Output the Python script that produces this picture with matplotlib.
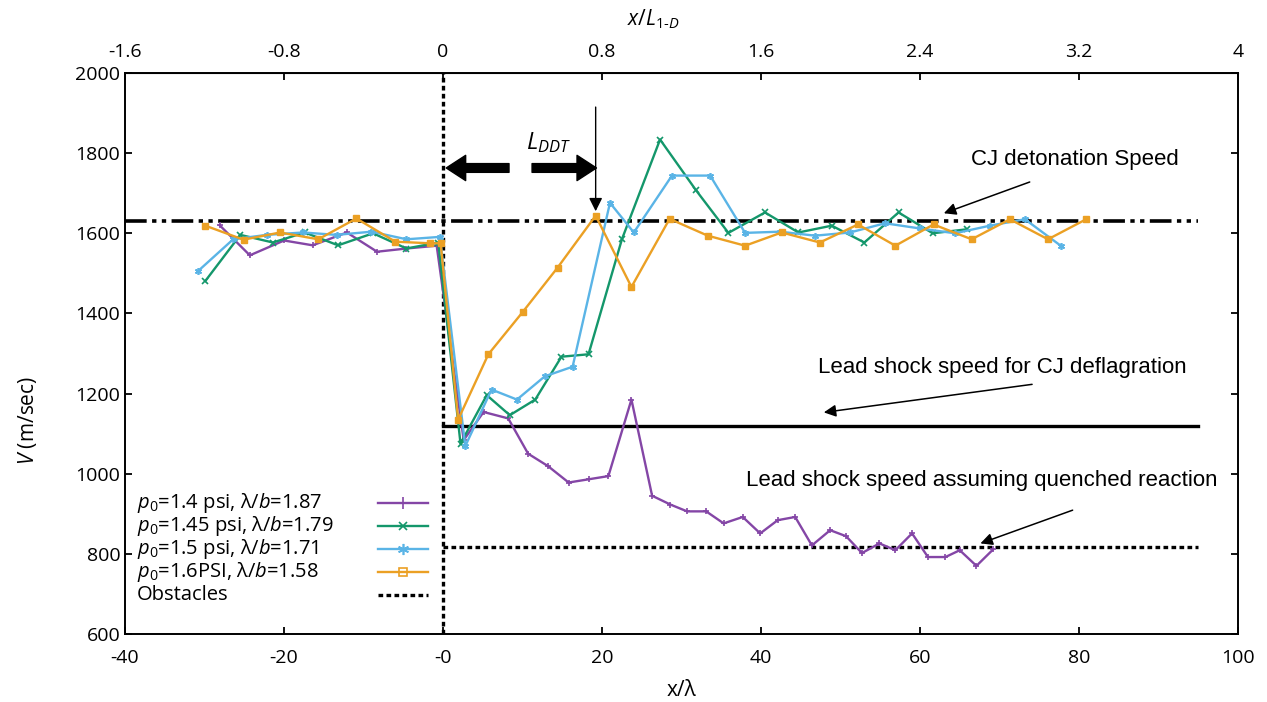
import matplotlib
matplotlib.use("Agg")
import matplotlib.pyplot as plt
from matplotlib.lines import Line2D

plt.rcParams['font.family'] = ['Open Sans', 'DejaVu Sans']
plt.rcParams['axes.unicode_minus'] = False
plt.rcParams['mathtext.fontset'] = 'custom'
plt.rcParams['mathtext.rm'] = 'Open Sans'
plt.rcParams['mathtext.it'] = 'Open Sans:italic'

# p0 = 1.4 psi
x_14 = [-28.1, -24.3, -20.0, -16.4, -12.1, -8.3, -4.6, -0.8, 2.6, 5.1, 8.2, 10.7, 13.2,
        15.8, 18.3, 20.8, 23.7, 26.3, 28.6, 30.7, 33.1, 35.3, 37.7, 39.9, 42.1, 44.3,
        46.4, 48.7, 50.7, 52.7, 54.9, 56.9, 59.0, 61.0, 63.2, 65.0, 67.1, 69.2]
v_14 = [1620, 1545, 1582, 1570, 1602, 1554, 1562, 1569, 1084, 1154, 1138, 1050, 1019,
        978, 986, 994, 1185, 945, 923, 906, 906, 876, 892, 851, 884, 892,
        821, 859, 844, 802, 826, 809, 851, 792, 792, 809, 770, 811]

# p0 = 1.45 psi
x_145 = [-29.9, -25.5, -21.4, -17.4, -13.2, -8.8, -4.6, -0.6, 2.2, 5.5, 8.4, 11.6, 14.9,
         18.3, 22.5, 27.3, 31.8, 35.9, 40.5, 44.7, 48.9, 53.0, 57.3, 61.6, 65.9]
v_145 = [1481, 1596, 1577, 1602, 1570, 1600, 1562, 1577, 1075, 1196, 1146, 1185, 1292,
         1298, 1585, 1834, 1708, 1601, 1652, 1602, 1619, 1577, 1652, 1600, 1610]

# p0 = 1.5 psi
x_15 = [-30.8, -26.4, -22.2, -17.6, -13.4, -9.0, -4.6, -0.4, 2.8, 6.1, 9.3, 12.8, 16.3,
        21.0, 24.0, 28.8, 33.6, 38.0, 42.4, 46.8, 51.2, 55.6, 60.0, 64.4, 68.8, 73.2, 77.7]
v_15 = [1506, 1585, 1596, 1602, 1596, 1604, 1585, 1591, 1069, 1210, 1185, 1243, 1267,
        1676, 1602, 1744, 1744, 1601, 1604, 1594, 1602, 1625, 1612, 1600, 1619, 1635, 1569]

# p0 = 1.6 psi
x_16 = [-29.9, -25.1, -20.5, -15.7, -10.9, -6.0, -1.6, -0.3, 1.9, 5.7, 10.0, 14.4, 19.2,
        23.7, 28.5, 33.3, 38.0, 42.6, 47.4, 52.2, 56.9, 61.7, 66.5, 71.3, 76.1, 80.9]
v_16 = [1619, 1584, 1602, 1585, 1637, 1579, 1575, 1575, 1135, 1298, 1403, 1514, 1644,
        1466, 1636, 1594, 1569, 1602, 1577, 1622, 1569, 1622, 1585, 1635, 1585, 1635]

labels = [r'$p_0$=1.4 psi, λ/$b$=1.87',
          r'$p_0$=1.45 psi, λ/$b$=1.79',
          r'$p_0$=1.5 psi, λ/$b$=1.71',
          r'$p_0$=1.6PSI, λ/$b$=1.58',
          'Obstacles']

cj_speed = 1630
deflag_speed = 1120
quench_speed = 817
line_end = 95

purple = '#8446a6'
green = '#14976b'
blue = '#5ab4e6'
orange = '#eba024'

fig = plt.figure(figsize=(12.67, 7.02), dpi=100)
ax = fig.add_axes([0.0987, 0.0969, 0.8784, 0.7991])

ax.plot([-40, line_end], [cj_speed, cj_speed], color='black', lw=2.6,
        ls=(0, (6, 1.5, 1.2, 1.5, 1.2, 1.5)))
ax.plot([0, line_end], [deflag_speed, deflag_speed], color='black', lw=2.4)
ax.plot([0, line_end], [quench_speed, quench_speed], color='black', lw=2.4, ls=(0, (1.4, 1.0)))
ax.axvline(0, color='black', lw=2.4, ls=(0, (1.4, 1.0)))

l1, = ax.plot(x_14, v_14, color=purple, lw=1.7, marker='+', ms=5, mew=1.2)
l2, = ax.plot(x_145, v_145, color=green, lw=1.7, marker='x', ms=4, mew=1.2)
l3, = ax.plot(x_15, v_15, color=blue, lw=1.7, marker=(6, 2, 0), ms=5, mew=1.2)
l4, = ax.plot(x_16, v_16, color=orange, lw=1.7, marker='s', ms=4)

ax.set_xlim(-40, 100)
ax.set_ylim(600, 2000)
ax.set_xticks([-40, -20, 0, 20, 40, 60, 80, 100])
ax.set_xticklabels(['-40', '-20', '-0', '20', '40', '60', '80', '100'])
ax.set_yticks(range(600, 2001, 200))
ax.tick_params(direction='in', length=5, width=1.3, labelsize=14, right=True)
ax.tick_params(axis='x', pad=11)
for s in ax.spines.values():
    s.set_linewidth(1.4)

ax.set_xlabel('x/λ', fontsize=15, labelpad=9)
ax.set_ylabel(r'$V$ (m/sec)', fontsize=15, labelpad=26, y=0.38)

top = ax.secondary_xaxis('top', functions=(lambda x: x / 25.0, lambda x: x * 25.0))
top.set_xticks([-1.6, -0.8, 0, 0.8, 1.6, 2.4, 3.2, 4])
top.set_xticklabels(['-1.6', '-0.8', '0', '0.8', '1.6', '2.4', '3.2', '4'])
top.tick_params(direction='in', length=5, width=1.3, labelsize=14, pad=9)
top.set_xlabel(r'$x/L_{1\text{-}D}$', fontsize=15, x=0.475, labelpad=12)

# L_DDT annotation
ax.text(13.3, 1795, r'$L_{DDT}$', fontsize=17, ha='center', va='bottom')
thick = dict(arrowstyle='simple,head_width=1.3,head_length=1.0,tail_width=0.45',
             color='black', mutation_scale=14, shrinkA=0, shrinkB=0)
ax.annotate('', xy=(0.4, 1763), xytext=(8.3, 1763), arrowprops=thick)
ax.annotate('', xy=(19.3, 1763), xytext=(11.2, 1763), arrowprops=thick)
ax.annotate('', xy=(19.2, 1655), xytext=(19.2, 1915),
            arrowprops=dict(arrowstyle='-|>', color='black', lw=1.0,
                            mutation_scale=20, shrinkA=0, shrinkB=0))

thin = dict(arrowstyle='-|>', color='black', lw=1.1, mutation_scale=18, shrinkA=0, shrinkB=0)
afont = dict(fontsize=16, family='Liberation Sans', ha='center', va='center')
ax.text(79.5, 1783, 'CJ detonation Speed', **afont)
ax.annotate('', xy=(63.0, 1650), xytext=(73.8, 1728), arrowprops=thin)
ax.text(70.3, 1266, 'Lead shock speed for CJ deflagration', **afont)
ax.annotate('', xy=(47.9, 1153), xytext=(74.1, 1223), arrowprops=thin)
ax.text(67.8, 984, 'Lead shock speed assuming quenched reaction', **afont)
ax.annotate('', xy=(67.6, 826), xytext=(79.2, 909), arrowprops=thin)

# legend: handles on the right, labels left-aligned
h4 = Line2D([], [], color=orange, lw=1.7, marker='s', ms=4, mfc='none', mew=1.2)
handles = [l1, l2, l3, h4,
           Line2D([], [], color='black', lw=2.4, ls=(0, (1.4, 1.0)))]
leg = ax.legend(handles, [' '] * 5, loc='upper left', bbox_to_anchor=(0.218, 0.265),
                frameon=False, fontsize=14.5, handlelength=2.5, labelspacing=0.15,
                borderpad=0, handletextpad=0, markerscale=1.6)
fig.canvas.draw()
r = fig.canvas.get_renderer()
W, H = fig.get_size_inches() * fig.dpi
for h, lab in zip(leg.legend_handles, labels):
    bb = h.get_window_extent(r)
    yc = (bb.y0 + bb.y1) / 2
    fig.text(137 / W, yc / H, lab, fontsize=14.5, ha='left', va='center')

fig.savefig('out.png', dpi=100)
